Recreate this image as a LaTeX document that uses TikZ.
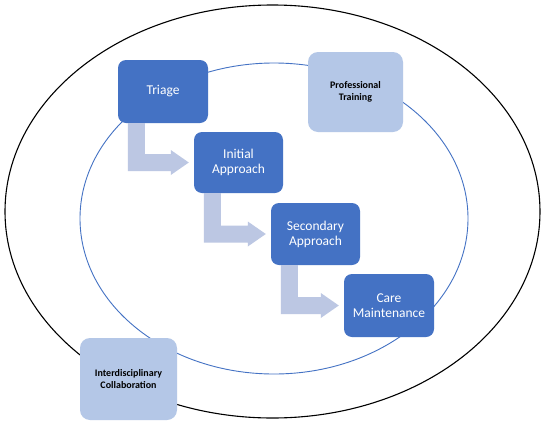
\documentclass[tikz,border=0pt]{standalone}
\usepackage{fontspec}
\setmainfont{Carlito}
\usetikzlibrary{calc}
\definecolor{darkbox}{HTML}{4472C4}
\definecolor{lightbox}{HTML}{B4C7E7}
\definecolor{arrowc}{HTML}{BCC7E3}
\definecolor{ringblue}{HTML}{4472C4}
\tikzset{
  stage/.style={fill=darkbox, rounded corners=8pt, inner sep=0pt, align=center,
    text=white, font=\fontsize{13.5}{15}\selectfont},
  support/.style={fill=lightbox, rounded corners=10pt, inner sep=0pt, align=center,
    text=black, font=\fontsize{10}{12.5}\selectfont\bfseries},
}
\newcommand\bentarrow[2]{%
  \fill[arrowc] let \p1=(#1.south west), \p2=(#2.west) in
   (\x1+10pt,\y1) -- (\x1+27pt,\y1) -- (\x1+27pt,\y2+8.5pt) -- (\x2-23pt,\y2+8.5pt)
   -- (\x2-23pt,\y2+12.5pt) -- (\x2-5pt,\y2) -- (\x2-23pt,\y2-12.5pt)
   -- (\x2-23pt,\y2-8.5pt) -- (\x1+10pt,\y2-8.5pt) -- cycle;}
\begin{document}
\begin{tikzpicture}[x=1pt,y=-1pt]
\useasboundingbox (0,0) rectangle (550,429);
\fill[white] (0,0) rectangle (550,429);
% rings
\draw[black, line width=1.1pt] (272.5,211.5) ellipse [x radius=267.5pt, y radius=206.5pt];
\draw[ringblue, line width=0.9pt] (274,218.5) ellipse [x radius=194pt, y radius=155.5pt];
% stages
\node[stage, minimum width=90pt, minimum height=63pt] (tri) at (163,91.5) {Triage};
\node[stage, minimum width=89pt, minimum height=61pt] (ini) at (238.5,162.5) {Initial\\Approach};
\node[stage, minimum width=89pt, minimum height=62pt] (sec) at (315.5,234) {Secondary\\Approach};
\node[stage, minimum width=90pt, minimum height=63pt] (car) at (389,305.5) {Care\\Maintenance};
% supports
\node[support, minimum width=95pt, minimum height=80pt] (pro) at (355.5,92) {Professional\\Training};
\node[support, minimum width=97pt, minimum height=82pt] (int) at (128.5,379) {Interdisciplinary\\Collaboration};
% bent arrows
\bentarrow{tri}{ini}
\bentarrow{ini}{sec}
\bentarrow{sec}{car}
\end{tikzpicture}
\end{document}
